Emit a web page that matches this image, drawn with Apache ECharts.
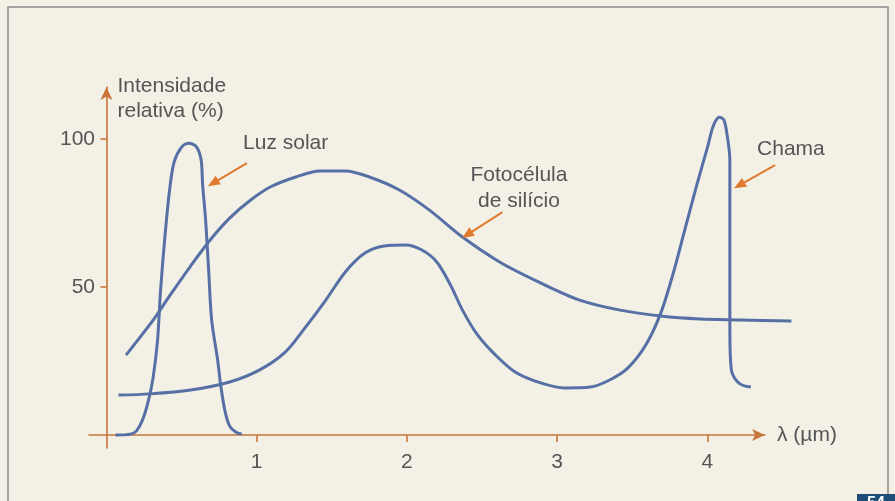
<!DOCTYPE html>
<html>
<head>
<meta charset="utf-8">
<script src="https://cdn.jsdelivr.net/npm/echarts@6/dist/echarts.min.js"></script>
<style>
  html, body { margin: 0; padding: 0; background: #f3f0e6; }
  #chart { width: 895px; height: 501px; }
</style>
</head>
<body>
<div id="chart"></div>
<script>
// Axis ticks
const xTicks = [1, 2, 3, 4];
const yTicks = [50, 100];

// Luz solar: wavelength (µm) and relative intensity (%)
const luzLambda = [0.06, 0.16, 0.20, 0.24, 0.28, 0.31, 0.34, 0.36, 0.39, 0.42, 0.45, 0.50, 0.55, 0.60, 0.63, 0.64, 0.66, 0.68, 0.70, 0.74, 0.76, 0.79, 0.82, 0.86, 0.90];
const luzValue  = [0.0, 0.3, 1.4, 5.1, 11.8, 19.3, 32.1, 49.0, 67.6, 82.8, 92.2, 97.3, 98.6, 97.3, 92.9, 84.5, 72.6, 55.7, 38.9, 25.3, 16.9, 7.8, 3.0, 1.0, 0.3];

// Fotocélula de silício
const fotoLambda = [0.13, 0.22, 0.32, 0.42, 0.56, 0.69, 0.82, 0.96, 1.09, 1.26, 1.42, 1.59, 1.75, 1.95, 2.15, 2.37, 2.62, 2.89, 3.15, 3.42, 3.69, 3.95, 4.22, 4.56];
const fotoValue  = [27.0, 32.8, 39.5, 47.0, 57.1, 65.9, 73.3, 79.4, 83.8, 87.2, 89.2, 89.2, 87.2, 82.8, 76.0, 66.9, 58.4, 51.4, 45.6, 42.2, 40.2, 39.2, 38.9, 38.5];

// Chama
const chamaLambda = [0.08, 0.29, 0.56, 0.82, 1.02, 1.19, 1.32, 1.46, 1.59, 1.72, 1.85, 1.99, 2.10, 2.20, 2.29, 2.37, 2.47, 2.59, 2.72, 2.89, 3.05, 3.22, 3.35, 3.47, 3.59, 3.69, 3.77, 3.85, 3.93, 4.00, 4.04, 4.08, 4.11, 4.13, 4.15, 4.15, 4.15, 4.16, 4.19, 4.23, 4.29];
const chamaValue  = [13.5, 13.9, 15.2, 17.9, 22.0, 28.0, 36.1, 45.6, 55.1, 61.5, 63.9, 64.2, 62.5, 58.4, 50.7, 42.2, 33.8, 27.0, 21.3, 17.6, 15.9, 16.2, 18.6, 22.6, 30.4, 41.2, 54.1, 69.3, 84.5, 97.0, 104.5, 107.4, 106.5, 102.0, 92.9, 62.5, 35.5, 22.0, 18.6, 16.9, 16.2];

// Curve labels with their pointer arrows (data units)
const notes = [
  { text: 'Luz solar', at: [0.909, 98.5], align: 'left', from: [0.935, 91.9], to: [0.675, 84.1] },
  { text: 'Fotocélula\nde silício', at: [2.746, 83.3], align: 'center', from: [2.636, 75.3], to: [2.367, 66.6] },
  { text: 'Chama', at: [4.331, 96.5], align: 'left', from: [4.451, 91.2], to: [4.178, 83.4] }
];

const FONT = "'Liberation Sans', Arial, sans-serif";
const FS = 21;
const TEXT = '#555555';
const AXIS = '#c9753b';
const CURVE = '#5670a6';
const ARROW = '#e07a2e';

// Shared scale: both grids use the same px-per-unit, the data grid is just wider
const X_MIN = -0.1165, Y_MIN = -4.39, Y_MAX = 117.6;
const AXIS_LEFT = 89, AXIS_RIGHT_EDGE = 765, DATA_RIGHT_EDGE = 810, W = 895;
const X_MAX_AXIS = 4.384;
const pxPerUnit = (AXIS_RIGHT_EDGE - AXIS_LEFT) / (X_MAX_AXIS - X_MIN);
const X_MAX_DATA = X_MIN + (DATA_RIGHT_EDGE - AXIS_LEFT) / pxPerUnit;

const zip = (xs, ys) => xs.map((x, i) => [x, ys[i]]);

const chart = echarts.init(document.getElementById('chart'), null, { renderer: 'canvas' });

const lineSeries = (name, xs, ys) => ({
  name, type: 'line', data: zip(xs, ys),
  xAxisIndex: 1, yAxisIndex: 1,
  showSymbol: false, symbol: 'none', smooth: 0.3, clip: false,
  lineStyle: { color: CURVE, width: 3 }, itemStyle: { color: CURVE },
  z: 3
});

chart.setOption({
  backgroundColor: '#f3f0e6',
  animation: false,
  textStyle: { fontFamily: FONT },
  grid: [
    { left: AXIS_LEFT, right: W - AXIS_RIGHT_EDGE, top: 87, bottom: 53, containLabel: false, outerBoundsMode: 'none' },
    { left: AXIS_LEFT, right: W - DATA_RIGHT_EDGE, top: 87, bottom: 53, containLabel: false, outerBoundsMode: 'none' }
  ],
  xAxis: [{
    type: 'value', gridIndex: 0, min: X_MIN, max: X_MAX_AXIS,
    name: 'λ (µm)', nameLocation: 'end', nameGap: 12,
    nameTextStyle: { color: TEXT, fontSize: FS, fontFamily: FONT, align: 'left', verticalAlign: 'middle' },
    axisLine: { onZero: true, lineStyle: { color: AXIS, width: 1.6 }, symbol: ['none', 'arrow'], symbolSize: [9, 13] },
    axisTick: { show: true, customValues: xTicks, length: 7, lineStyle: { color: AXIS, width: 1.6 } },
    axisLabel: { customValues: xTicks, color: TEXT, fontSize: FS, fontFamily: FONT, margin: 4 },
    splitLine: { show: false }
  }, {
    type: 'value', gridIndex: 1, min: X_MIN, max: X_MAX_DATA, show: false, splitLine: { show: false }
  }],
  yAxis: [{
    type: 'value', gridIndex: 0, min: Y_MIN, max: Y_MAX,
    name: 'Intensidade\nrelativa (%)', nameLocation: 'end', nameGap: 13,
    nameTextStyle: { color: TEXT, fontSize: FS, fontFamily: FONT, align: 'left', verticalAlign: 'top', lineHeight: 25, padding: [0, 0, 0, 11] },
    axisLine: { onZero: true, lineStyle: { color: AXIS, width: 1.6 }, symbol: ['none', 'arrow'], symbolSize: [9, 13] },
    axisTick: { show: true, customValues: yTicks, length: 6, lineStyle: { color: AXIS, width: 1.6 } },
    axisLabel: { customValues: yTicks, color: TEXT, fontSize: FS, fontFamily: FONT, margin: -6 },
    splitLine: { show: false }
  }, {
    type: 'value', gridIndex: 1, min: Y_MIN, max: Y_MAX, show: false, splitLine: { show: false }
  }],
  series: [
    lineSeries('Luz solar', luzLambda, luzValue),
    lineSeries('Fotocélula de silício', fotoLambda, fotoValue),
    lineSeries('Chama', chamaLambda, chamaValue)
  ]
});

// Labels and arrows, placed through the chart's own coordinate conversion
const toPx = p => chart.convertToPixel({ gridIndex: 1 }, p);
const graphics = [
  // page frame
  { type: 'rect', shape: { x: 8, y: 7, width: 880, height: 530 }, style: { fill: 'none', stroke: '#8a8a8a', lineWidth: 1.5 }, z: 0, silent: true },
  // page number tab
  { type: 'rect', shape: { x: 857, y: 494, width: 40, height: 10 }, style: { fill: '#1e4d78' }, z: 1, silent: true },
  { type: 'text', x: 876, y: 496, style: { text: '54', fill: '#ffffff', font: 'bold 16px ' + FONT, textAlign: 'center', textVerticalAlign: 'top' }, z: 2, silent: true }
];

notes.forEach(n => {
  const p = toPx(n.at);
  graphics.push({
    type: 'text', x: p[0], y: p[1], z: 5, silent: true,
    style: { text: n.text, fill: TEXT, font: FS + 'px ' + FONT, textAlign: n.align, textVerticalAlign: 'middle', lineHeight: 26 }
  });
  const s = toPx(n.from), t = toPx(n.to);
  const dx = t[0] - s[0], dy = t[1] - s[1];
  const len = Math.hypot(dx, dy);
  const ux = dx / len, uy = dy / len;
  const head = 12, half = 5;
  const bx = t[0] - ux * head, by = t[1] - uy * head;
  graphics.push({
    type: 'line', z: 5, silent: true,
    shape: { x1: s[0], y1: s[1], x2: bx + ux * 2, y2: by + uy * 2 },
    style: { stroke: ARROW, lineWidth: 2 }
  });
  graphics.push({
    type: 'polygon', z: 5, silent: true,
    shape: { points: [[t[0], t[1]], [bx - uy * half, by + ux * half], [bx + uy * half, by - ux * half]] },
    style: { fill: ARROW }
  });
});

chart.setOption({ graphic: graphics });
</script>
</body>
</html>
